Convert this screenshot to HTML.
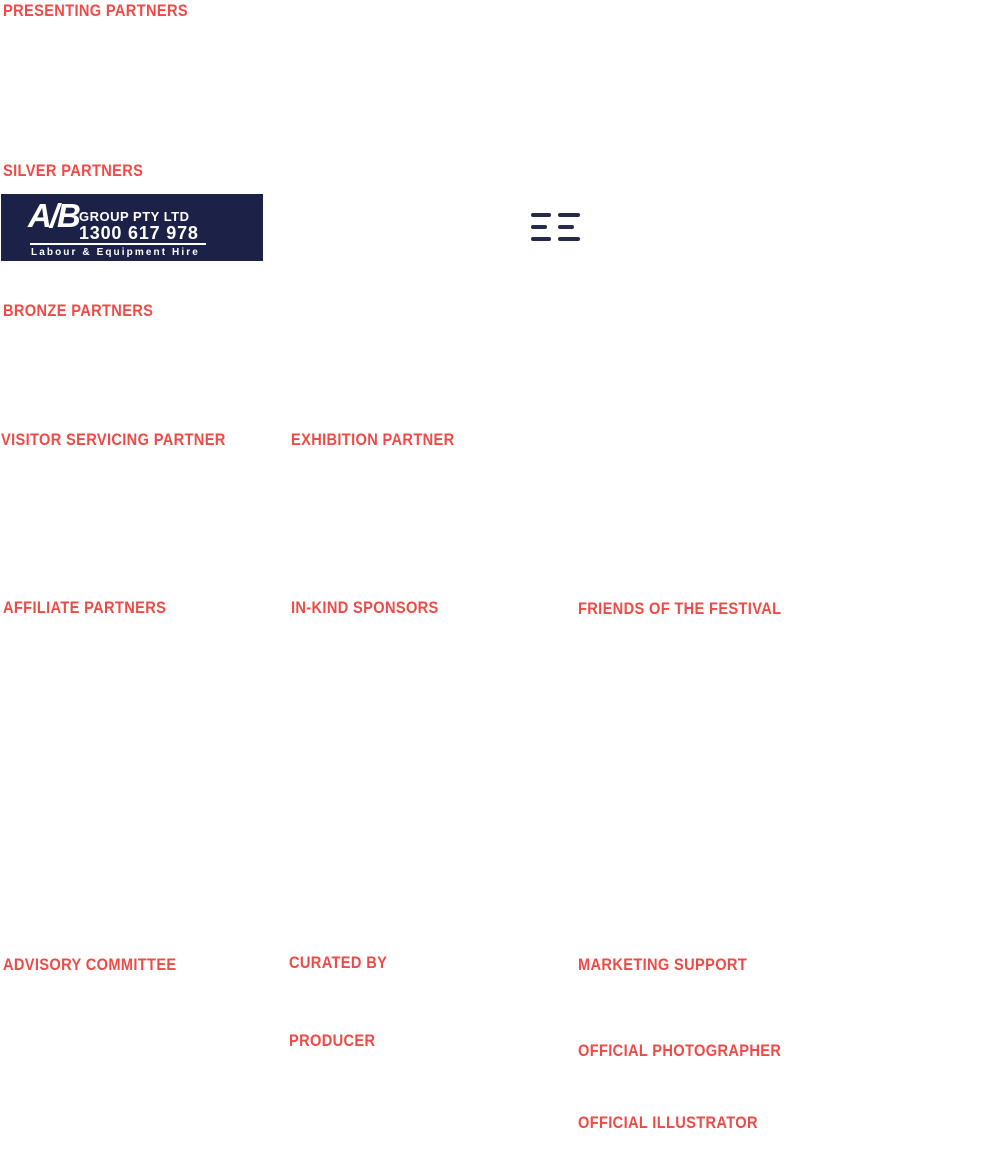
<!DOCTYPE html>
<html><head><style>
body{margin:0;width:1000px;height:1166px;background:#fff;position:relative;overflow:hidden}
.h{position:absolute;color:#ee4a46;font-family:"Liberation Sans",sans-serif;font-weight:bold;font-size:17px;line-height:20px;transform:scaleX(0.86);transform-origin:left center;white-space:nowrap;letter-spacing:0.4px}
.logo{position:absolute;left:1px;top:194px;width:262px;height:67px;background:#1c2148;color:#fff;font-family:"Liberation Sans",sans-serif;font-weight:bold}
.logo div{position:absolute;white-space:nowrap}
.d{position:absolute;background:#252a4a;height:4px;border-radius:2px}
</style></head><body>
<div class="h" style="left:3px;top:1px">PRESENTING PARTNERS</div>
<div class="h" style="left:3px;top:161px">SILVER PARTNERS</div>
<div class="logo">
 <div style="left:27px;top:2px;font-size:33px;line-height:40px;font-style:italic;letter-spacing:-2px">A/B</div>
 <div style="left:78px;top:15px;font-size:13px;line-height:15px;letter-spacing:0.5px">GROUP PTY LTD</div>
 <div style="left:78px;top:30px;font-size:18px;line-height:19px;letter-spacing:0.8px">1300 617 978</div>
 <div style="left:29px;top:49px;width:176px;height:2px;background:#fff"></div>
 <div style="left:30px;top:53px;font-size:10px;line-height:12px;letter-spacing:2.1px">Labour &amp; Equipment Hire</div>
</div>
<div class="d" style="left:531px;top:213px;width:20px"></div>
<div class="d" style="left:558px;top:213px;width:22px"></div>
<div class="d" style="left:531px;top:225px;width:16px"></div>
<div class="d" style="left:558px;top:225px;width:16px"></div>
<div class="d" style="left:531px;top:237px;width:20px"></div>
<div class="d" style="left:558px;top:237px;width:22px"></div>
<div class="h" style="left:3px;top:301px">BRONZE PARTNERS</div>
<div class="h" style="left:1px;top:430px">VISITOR SERVICING PARTNER</div>
<div class="h" style="left:291px;top:430px">EXHIBITION PARTNER</div>
<div class="h" style="left:3px;top:598px">AFFILIATE PARTNERS</div>
<div class="h" style="left:291px;top:598px">IN-KIND SPONSORS</div>
<div class="h" style="left:578px;top:599px">FRIENDS OF THE FESTIVAL</div>
<div class="h" style="left:3px;top:955px">ADVISORY COMMITTEE</div>
<div class="h" style="left:289px;top:953px">CURATED BY</div>
<div class="h" style="left:578px;top:955px">MARKETING SUPPORT</div>
<div class="h" style="left:289px;top:1031px">PRODUCER</div>
<div class="h" style="left:578px;top:1041px">OFFICIAL PHOTOGRAPHER</div>
<div class="h" style="left:578px;top:1113px">OFFICIAL ILLUSTRATOR</div>
</body></html>
